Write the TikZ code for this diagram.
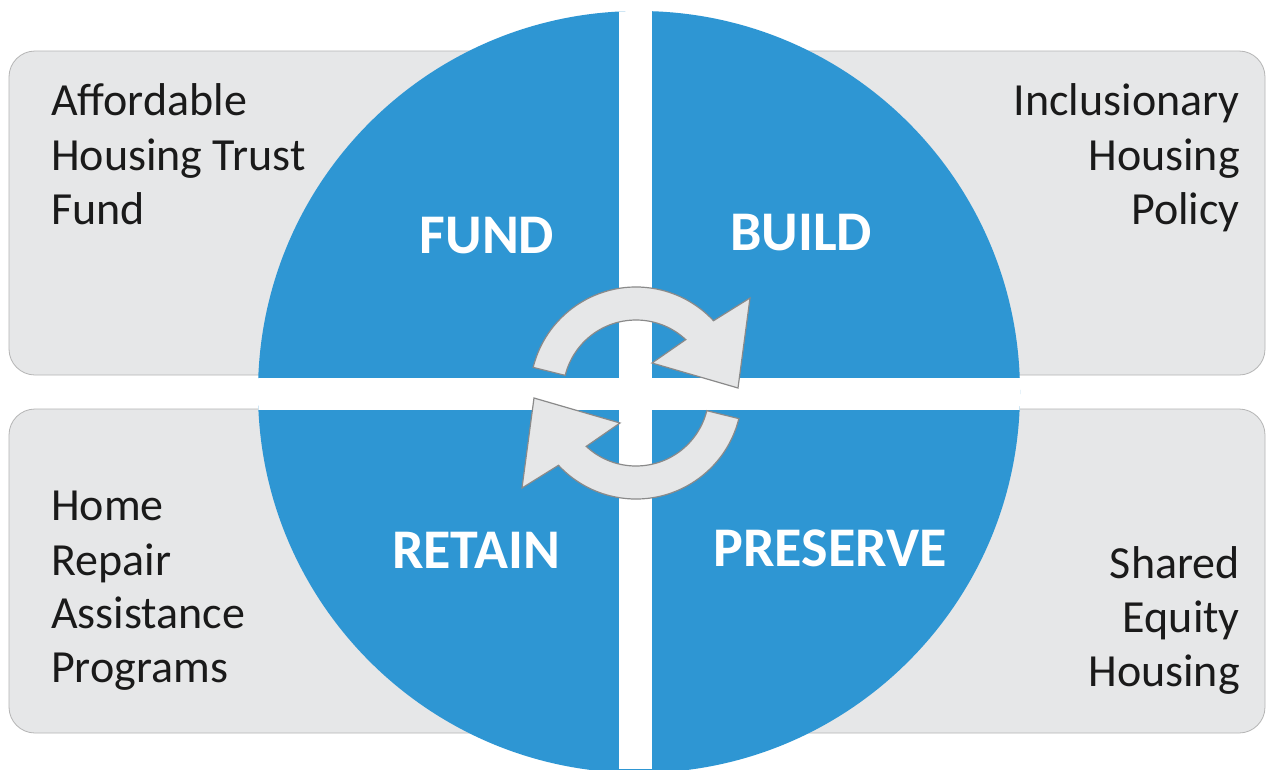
\documentclass[tikz,border=0pt]{standalone}
\usepackage{fontspec}
\setmainfont{Carlito}
\definecolor{boxfill}{HTML}{E6E7E8}
\definecolor{boxline}{HTML}{B5B5B5}
\definecolor{arrowline}{HTML}{8A8A8A}
\definecolor{quadblue}{HTML}{2E96D3}
\definecolor{textcol}{HTML}{1A1A1A}
\begin{document}
\begin{tikzpicture}[x=1pt,y=-1pt,
  box/.style={draw=boxline, fill=boxfill, line width=0.8pt, rounded corners=26pt},
  lbl/.style={inner sep=0pt, font=\fontsize{46}{54}\selectfont, text=textcol},
  quad/.style={inner sep=0pt, font=\bfseries\fontsize{56}{60}\selectfont, text=white},
  cyc/.style={draw=arrowline, fill=boxfill, line width=1.2pt, line join=miter}]
\useasboundingbox[fill=white] (0,0) rectangle (1266,769);
% grey panels
\draw[box] (9,51) rectangle (1265,375);
\draw[box] (9,409) rectangle (1265,733);
% blue circle split in four
\fill[quadblue] (639,392) circle (381pt);
\begin{scope}
  \clip (639,392) circle (381pt);
  \fill[white] (619,0) rectangle (652,769);
  \fill[white] (0,378) rectangle (1266,410);
\end{scope}
% panel texts
\node[lbl, anchor=base west] (tl1) at (51,115) {Affordable};
\node[lbl, anchor=base west] (tl2) at (51,170) {Housing Trust};
\node[lbl, anchor=base west] (tl3) at (51,224) {Fund};
\node[lbl, anchor=base east] (tr1) at (1240,115) {Inclusionary};
\node[lbl, anchor=base east] (tr2) at (1240,170) {Housing};
\node[lbl, anchor=base east] (tr3) at (1240,224) {Policy};
\node[lbl, anchor=base west] (bl1) at (51,520) {Home};
\node[lbl, anchor=base west] (bl2) at (51,575) {Repair};
\node[lbl, anchor=base west] (bl3) at (51,628) {Assistance};
\node[lbl, anchor=base west] (bl4) at (51,682) {Programs};
\node[lbl, anchor=base east] (br1) at (1240,578) {Shared};
\node[lbl, anchor=base east] (br2) at (1240,632) {Equity};
\node[lbl, anchor=base east] (br3) at (1240,686) {Housing};
% quadrant labels
\node[quad, anchor=base] (fund) at (487,253) {FUND};
\node[quad, anchor=base] (build) at (801,250) {BUILD};
\node[quad, anchor=base] (retain) at (476,568) {RETAIN};
\node[quad, anchor=base] (preserve) at (830,566) {PRESERVE};
% cycle arrows
\begin{scope}[shift={(636,393)}]
  \draw[cyc] (166:106pt) arc[start angle=166,end angle=43,radius=106pt]
    -- (114pt,95pt) -- (102pt,5pt) -- (16pt,30pt) -- (47:73pt)
    arc[start angle=47,end angle=166,radius=73pt] -- cycle;
  \begin{scope}[rotate=180]
  \draw[cyc] (166:106pt) arc[start angle=166,end angle=43,radius=106pt]
    -- (114pt,95pt) -- (102pt,5pt) -- (16pt,30pt) -- (47:73pt)
    arc[start angle=47,end angle=166,radius=73pt] -- cycle;
  \end{scope}
\end{scope}
\end{tikzpicture}
\end{document}
